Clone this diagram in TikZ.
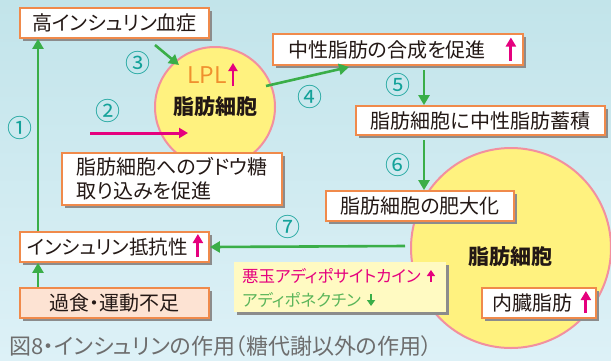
\documentclass[tikz,border=0pt]{standalone}
\usepackage{fontspec}
\newfontfamily\jp[RawFeature=+palt]{Noto Sans CJK JP}
\newfontfamily\jpn{Noto Sans CJK JP}
\usetikzlibrary{shadows,arrows.meta,calc}
\definecolor{bgtop}{HTML}{C2E4EA}
\definecolor{bgbot}{HTML}{DDF1F7}
\definecolor{boxorange}{HTML}{F08A4B}
\definecolor{grn}{HTML}{3AAE48}
\definecolor{mag}{HTML}{E5007E}
\definecolor{teal}{HTML}{14A29A}
\definecolor{cyel}{HTML}{FFF27F}
\definecolor{cpink}{HTML}{F2909F}
\definecolor{lyel}{HTML}{FFFAC2}
\definecolor{peach}{HTML}{FDE3D3}
\definecolor{shd}{HTML}{8C8C8C}
\definecolor{capgray}{HTML}{6E6E6E}
\definecolor{lplor}{HTML}{F0902E}
\definecolor{txt}{HTML}{231815}
\definecolor{lgrn}{HTML}{5BB55A}
\tikzset{
  box/.style={draw=boxorange, line width=1.8pt, fill=white, inner sep=0pt,
    minimum height=30pt, text=txt, font=\jp\fontsize{20}{24}\selectfont,
    drop shadow={shadow xshift=3pt,shadow yshift=-3pt,fill=shd,opacity=1}},
  garrow/.style={draw=grn, line width=2.6pt, -{Triangle[width=11pt,length=10pt]}},
  marrow/.style={draw=mag, line width=3pt, -{Triangle[width=10pt,length=9pt]}},
  smarrow/.style={line width=2.2pt, -{Triangle[width=8pt,length=6pt]}},
  num/.style={text=teal, font=\jpn\fontsize{25}{25}\selectfont, inner sep=0pt},
  cell/.style={circle, draw=cpink, line width=2pt, fill=cyel, inner sep=0pt},
  celltxt/.style={font=\jpn\bfseries\fontsize{21}{21}\selectfont, text=txt, inner sep=0pt}
}
\begin{document}
\begin{tikzpicture}[x=1pt,y=-1pt]
\useasboundingbox (0,0) rectangle (611,360);
\shade[top color=bgtop,bottom color=bgbot] (0,0) rectangle (611,360);
% cells
\node[cell, minimum size=120pt] (c1) at (215,107) {};
\node[celltxt] (c1t) at (215,107) {脂肪細胞};
\node[font=\jpn\fontsize{23}{23}\selectfont, text=lplor, inner sep=0pt] (lpl) at (207,75) {LPL};
\draw[draw=mag, line width=2.6pt, -{Triangle[width=9pt,length=8pt]}] ([xshift=6pt,yshift=-11pt]lpl.east) -- ([xshift=6pt,yshift=12pt]lpl.east);
\node[cell, minimum size=200pt] (c2) at (511,248) {};
\node[celltxt] (c2t) at (510,257) {脂肪細胞};
% boxes
\node[box, minimum width=189pt] (b1) at (114.5,23) {高インシュリン血症};
\node[box, minimum height=31pt, inner xsep=15pt, text width=220pt, align=left] (b2) at (398,49.5) {中性脂肪の合成を促進};
\node[box, minimum width=249pt, minimum height=29pt] (b3) at (480.5,120.5) {脂肪細胞に中性脂肪蓄積};
\node[box, minimum width=220pt, minimum height=52pt, align=left] (b4) at (172,179) {脂肪細胞へのブドウ糖\\取り込みを促進};
\node[box, minimum width=188pt] (b5) at (420,206) {脂肪細胞の肥大化};
\node[box, inner xsep=7pt, text width=175pt, align=left, font=\jp\fontsize{19.5}{24}\selectfont] (b6) at (114.5,247) {インシュリン抵抗性};
\node[box, minimum width=189pt, fill=peach] (b7) at (114.5,303) {過食・運動不足};
\node[box, minimum width=212pt, minimum height=50pt, draw=none, fill=lyel] (b8) at (340,287) {};
\node[box, inner xsep=10pt, text width=94pt, align=left] (b9) at (539,303) {内臓脂肪};
% b8 texts
\node[anchor=west, inner sep=0pt, text=mag, font=\jp\fontsize{16.5}{16.5}\selectfont] (t8a) at (242,276) {悪玉アディポサイトカイン};
\node[anchor=west, inner sep=0pt, text=lgrn, font=\jp\fontsize{16.5}{16.5}\selectfont] (t8b) at (242,300) {アディポネクチン};
\draw[smarrow, draw=mag] ([xshift=10pt,yshift=-6pt]t8a.east) -- ([xshift=10pt,yshift=6pt]t8a.east);
\draw[smarrow, draw=grn] ([xshift=10pt,yshift=6pt]t8b.east) -- ([xshift=10pt,yshift=-6pt]t8b.east);
% magenta arrows inside boxes
\draw[marrow] ([xshift=-13pt,yshift=-11pt]b2.east) -- ([xshift=-13pt,yshift=12pt]b2.east);
\draw[marrow] ([xshift=-12pt,yshift=-10pt]b6.east) -- ([xshift=-12pt,yshift=13pt]b6.east);
\draw[marrow] ([xshift=-11pt,yshift=-10pt]b9.east) -- ([xshift=-11pt,yshift=12pt]b9.east);
% green connectors
\draw[garrow] ([xshift=-76.5pt]b6.north) -- ([xshift=-76.5pt]b1.south);
\draw[garrow] ([xshift=-76.5pt]b7.north) -- ([xshift=-76.5pt]b6.south);
\coordinate (a3s) at (155,45);
\coordinate (a3e) at (179,65);
\draw[garrow] (a3s) -- (a3e);
\coordinate (a4s) at (266,86);
\coordinate (a4e) at (349,67);
\draw[garrow] (a4s) -- (a4e);
\coordinate (a5s) at (424,70);
\draw[garrow] (a5s) -- (a5s |- b3.north);
\coordinate (a6s) at (424,140);
\draw[garrow] (a6s) -- (a6s |- b5.north);
\coordinate (a7s) at (405,246);
\draw[garrow] (a7s) -- (b6.east);
% magenta arrow 2
\coordinate (a2s) at (90,133);
\coordinate (a2e) at (188,133);
\draw[marrow] (a2s) -- (a2e);
% numbers
\node[num] (n1) at (20,128) {①};
\node[num] (n2) at (108,111) {②};
\node[num] (n3) at (138,63) {③};
\node[num] (n4) at (310,97) {④};
\node[num] (n5) at (398,85) {⑤};
\node[num] (n6) at (398,165) {⑥};
\node[num] (n7) at (288,227) {⑦};
% caption
\node[anchor=west, inner sep=0pt, text=capgray, font=\jp\fontsize{22}{22}\selectfont] (cap) at (9,346) {図8・インシュリンの作用（糖代謝以外の作用）};
\end{tikzpicture}
\end{document}
